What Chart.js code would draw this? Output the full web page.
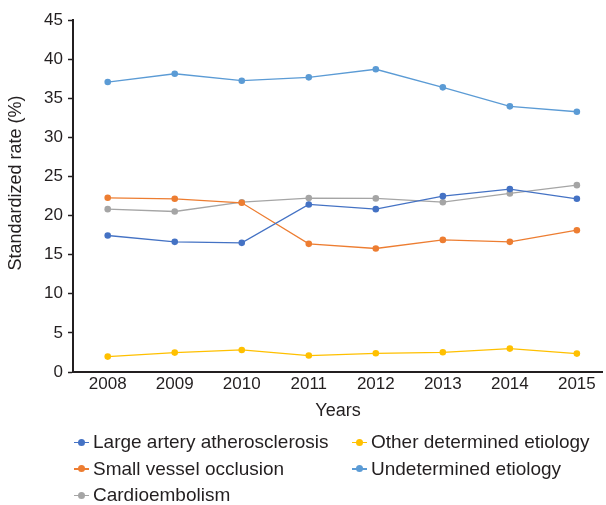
<!DOCTYPE html>
<html>
<head>
<meta charset="utf-8">
<script src="https://cdn.jsdelivr.net/npm/chart.js@4/dist/chart.umd.min.js"></script>
<style>
  body { margin: 0; background: #fff; }
  #wrap { position: relative; width: 606px; height: 505px; }
  #legend {
    position: absolute; left: 74px; top: 429px; width: 532px;
    display: grid; grid-template-columns: 278px 254px; grid-auto-rows: 26.5px;
    font-family: "Liberation Sans", Arial, sans-serif;
    font-size: 19px; color: #231f20;
  }
  .item { display: flex; align-items: center; white-space: nowrap; }
  .mark { position: relative; width: 15px; height: 10px; margin-right: 4px; flex: none; }
  .mark::before { content: ""; position: absolute; left: 0; right: 0; top: 4.5px; height: 1.3px; background: var(--c); }
  .mark::after { content: ""; position: absolute; left: 4px; top: 1.5px; width: 7px; height: 7px; border-radius: 50%; background: var(--c); }
</style>
</head>
<body>
<div id="wrap">
  <canvas id="chart" width="606" height="505"></canvas>
  <div id="legend"></div>
</div>
<script>
// Data
const years = [2008, 2009, 2010, 2011, 2012, 2013, 2014, 2015];
const largeArtery = [17.45, 16.64, 16.51, 21.42, 20.82, 22.48, 23.38, 22.14];
const smallVessel = [22.27, 22.14, 21.63, 16.38, 15.79, 16.89, 16.64, 18.13];
const cardioembolism = [20.82, 20.52, 21.71, 22.23, 22.19, 21.71, 22.83, 23.89];
const otherDetermined = [1.97, 2.48, 2.82, 2.10, 2.39, 2.52, 2.99, 2.35];
const undetermined = [37.07, 38.13, 37.24, 37.67, 38.70, 36.39, 33.96, 33.27];
const yTicks = [0, 5, 10, 15, 20, 25, 30, 35, 40, 45];

const FONT = '"Liberation Sans", Arial, sans-serif';
const INK = '#231f20';

// legend order (row by row, two columns)
const series = [
    { label: 'Large artery atherosclerosis', data: largeArtery, color: '#4472c4' },
    { label: 'Other determined etiology', data: otherDetermined, color: '#ffc000' },
    { label: 'Small vessel occlusion', data: smallVessel, color: '#ed7d31' },
    { label: 'Undetermined etiology', data: undetermined, color: '#5b9bd5' },
    { label: 'Cardioembolism', data: cardioembolism, color: '#a5a5a5' }
];

const datasets = series.map(s => ({
    label: s.label,
    data: years.map((yr, i) => ({ x: yr, y: s.data[i] })),
    borderColor: s.color,
    backgroundColor: s.color,
    borderWidth: 1.3,
    pointRadius: 3.3,
    pointBorderWidth: 0,
    tension: 0
}));

// axis titles drawn at their spots
const titles = {
    id: 'titles',
    afterDraw(chart) {
        const ctx = chart.ctx;
        ctx.save();
        ctx.fillStyle = INK;
        ctx.font = '18px ' + FONT;
        ctx.textAlign = 'center';
        ctx.textBaseline = 'middle';
        ctx.fillText('Years', 338, 411);
        ctx.translate(16, 183);
        ctx.rotate(-Math.PI / 2);
        ctx.fillText('Standardized rate (%)', 0, 0);
        ctx.restore();
    }
};

new Chart(document.getElementById('chart'), {
    type: 'line',
    data: { datasets },
    options: {
        responsive: false,
        animation: false,
        layout: { padding: { top: 20, right: 0, left: 0, bottom: 0 } },
        plugins: { legend: { display: false }, tooltip: { enabled: false } },
        scales: {
            x: {
                type: 'linear',
                min: 2007.482,
                max: 2015.375,
                afterBuildTicks: sc => { sc.ticks = years.map(v => ({ value: v })); },
                afterFit: sc => { sc.height = 133; },
                grid: { display: true, drawOnChartArea: false, drawTicks: false },
                border: { color: INK, width: 2 },
                ticks: {
                    color: INK, padding: 2,
                    font: { family: FONT, size: 17 },
                    callback: v => String(v),
                    maxRotation: 0
                }
            },
            y: {
                min: 0,
                max: 45,
                afterBuildTicks: sc => { sc.ticks = yTicks.map(v => ({ value: v })); },
                afterFit: sc => { sc.width = 73; },
                grid: { drawOnChartArea: false, drawTicks: true, tickLength: 5, color: INK, tickWidth: 1.5 },
                border: { color: INK, width: 2 },
                ticks: { color: INK, padding: 5, font: { family: FONT, size: 17 } }
            }
        }
    },
    plugins: [titles]
});

// HTML legend
const legend = document.getElementById('legend');
series.forEach(s => {
    const div = document.createElement('div');
    div.className = 'item';
    div.innerHTML = `<span class="mark" style="--c:${s.color}"></span><span>${s.label}</span>`;
    legend.appendChild(div);
});
</script>
</body>
</html>
